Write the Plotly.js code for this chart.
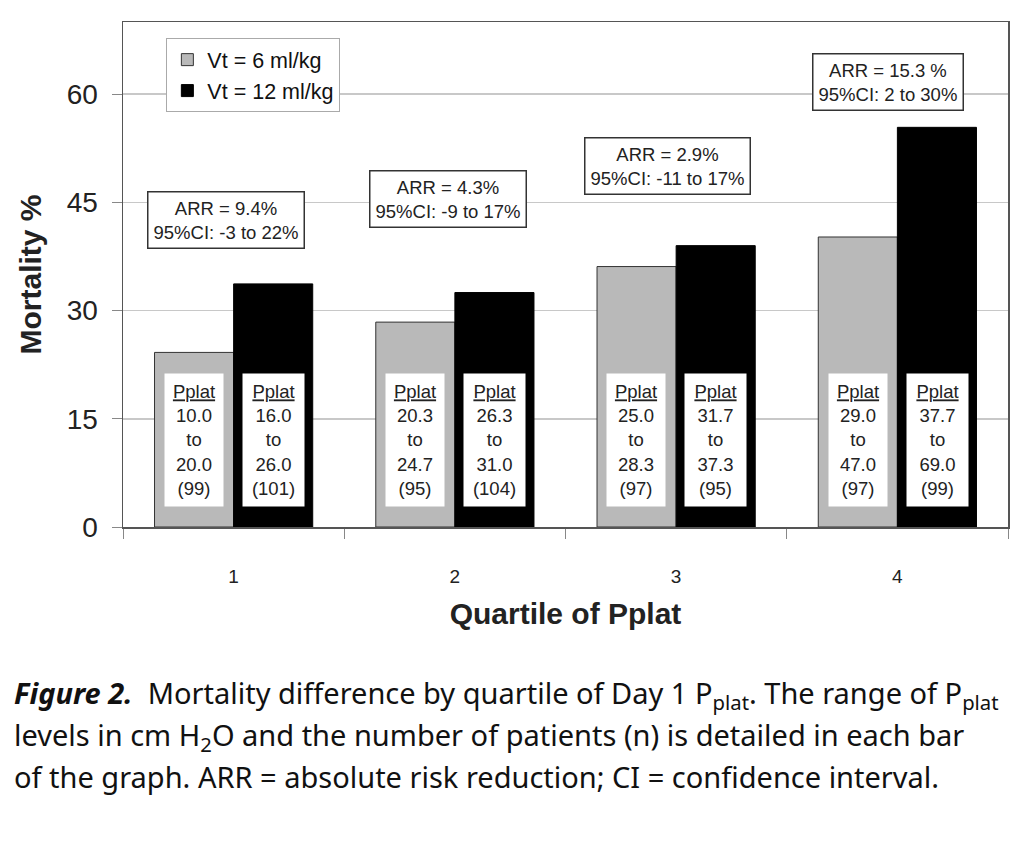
<!DOCTYPE html>
<html>
<head>
<meta charset="utf-8">
<script src="https://cdn.plot.ly/plotly-3.0.1.min.js"></script>
<style>html,body{margin:0;padding:0;background:#fff;}#chart{width:1024px;height:845px;}</style>
</head>
<body>
<div id="chart"></div>
<script>
const quartiles = ["1", "2", "3", "4"];
const seriesNames = ["Vt = 6 ml/kg", "Vt = 12 ml/kg"];
const mortality6 = [24.2, 28.4, 36.1, 40.2];
const mortality12 = [33.7, 32.5, 39.0, 55.4];
const pplatRange6 = [["10.0", "20.0"], ["20.3", "24.7"], ["25.0", "28.3"], ["29.0", "47.0"]];
const pplatRange12 = [["16.0", "26.0"], ["26.3", "31.0"], ["31.7", "37.3"], ["37.7", "69.0"]];
const patients6 = [99, 95, 97, 97];
const patients12 = [101, 104, 95, 99];
const arrText = ["ARR = 9.4%", "ARR = 4.3%", "ARR = 2.9%", "ARR = 15.3 %"];
const ciText = ["95%CI: -3 to 22%", "95%CI: -9 to 17%", "95%CI: -11 to 17%", "95%CI: 2 to 30%"];
const arrY = [42.5, 45.4, 50.0, 61.7];
const arrXShift = [-8, -7, -9, -9];
const captionLines = [
  "<i><b>Figure 2.</b></i>  Mortality difference by quartile of Day 1 P<sub>plat</sub>. The range of P<sub>plat</sub>",
  "levels in cm H<sub>2</sub>O and the number of patients (n) is detailed in each bar",
  "of the graph. ARR = absolute risk reduction; CI = confidence interval."
];

const font = "Liberation Sans, Arial, sans-serif";

const traces = [
  {type: "bar", name: seriesNames[0], x: quartiles, y: mortality6,
   marker: {color: "#b9b9b9", line: {color: "#333", width: 1}}},
  {type: "bar", name: seriesNames[1], x: quartiles, y: mortality12,
   marker: {color: "#000000", line: {color: "#000", width: 1}}}
];

const annotations = [];
quartiles.forEach((q, i) => {
  annotations.push({
    x: i, y: arrY[i], xref: "x", yref: "y", xshift: arrXShift[i],
    text: arrText[i] + "<br>" + ciText[i], showarrow: false,
    font: {family: font, size: 18.5, color: "#222"},
    bgcolor: "#fff", bordercolor: "#333", borderwidth: 1.5, borderpad: 5
  });
  const mk = (rng, n) => "<u>Pplat</u><br>" + rng[0] + "<br>to<br>" + rng[1] + "<br>(" + n + ")";
  annotations.push({
    x: i - 0.18, y: 12.05, xref: "x", yref: "y",
    text: mk(pplatRange6[i], patients6[i]), showarrow: false,
    font: {family: font, size: 18.5, color: "#222"},
    bgcolor: "#fff", borderpad: 2, width: 54, height: 128
  });
  annotations.push({
    x: i + 0.18, y: 12.05, xref: "x", yref: "y",
    text: mk(pplatRange12[i], patients12[i]), showarrow: false,
    font: {family: font, size: 18.5, color: "#222"},
    bgcolor: "#fff", borderpad: 2, width: 57, height: 128
  });
});

const captionY = [-0.332, -0.4158, -0.495];
captionLines.forEach((t, k) => {
  annotations.push({
    xref: "paper", yref: "paper", x: -0.1254, y: captionY[k], xanchor: "left", yanchor: "middle",
    align: "left", showarrow: false, text: t,
    font: {family: "Noto Sans, sans-serif", size: 29, color: "#111"}
  });
});

const layout = {
  width: 1024, height: 845,
  margin: {l: 123, r: 16, t: 22, b: 318},
  paper_bgcolor: "#fff", plot_bgcolor: "#fff",
  barmode: "group", bargap: 0.285, bargroupgap: 0,
  showlegend: true,
  legend: {x: 0.049, y: 0.968, xanchor: "left", yanchor: "top",
    bgcolor: "#fff", bordercolor: "#aaa", borderwidth: 1,
    font: {family: font, size: 21.5, color: "#111"}, tracegroupgap: 0, itemwidth: 30},
  xaxis: {type: "category", tickson: "boundaries", ticks: "outside", ticklen: 10,
    tickcolor: "#888", showline: true, linecolor: "#555", linewidth: 1.5, mirror: true,
    showgrid: false, tickfont: {family: font, size: 19, color: "#222"}, ticklabelstandoff: 32,
    title: {text: "<b>Quartile of Pplat</b>", font: {family: font, size: 30, color: "#222"}, standoff: 16}},
  yaxis: {range: [0, 70], dtick: 15, tick0: 0, ticks: "outside", ticklen: 10, tickcolor: "#888",
    showline: true, linecolor: "#555", linewidth: 1.5, mirror: true,
    showgrid: true, gridcolor: "#c8c8c8", gridwidth: 1.5, zeroline: false,
    tickfont: {family: font, size: 28, color: "#222"}, ticklabelstandoff: 8,
    title: {text: "<b>Mortality %</b>", font: {family: font, size: 30, color: "#222"}, standoff: 16}},
  annotations: annotations
};

Plotly.newPlot("chart", traces, layout, {displayModeBar: false, staticPlot: true});
</script>
</body>
</html>
